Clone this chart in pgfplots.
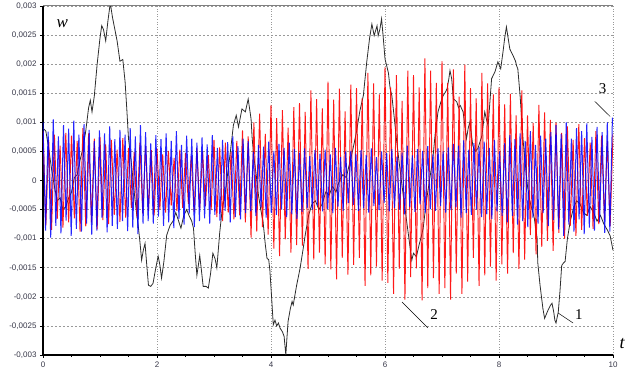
\documentclass[border=0pt]{standalone}
\usepackage{fontspec}
\setmainfont{Liberation Sans}
\newfontfamily\tms{Liberation Serif}
\usepackage{pgfplots}
\pgfplotsset{compat=1.18}

\definecolor{tickgray}{RGB}{55,55,72}
\definecolor{curveone}{RGB}{45,45,45}
\definecolor{curvetwo}{RGB}{255,0,0}
\definecolor{curvethree}{RGB}{0,0,255}

% w is plotted in units of 1e-3, tick labels carry the real values
\begin{document}
\begin{tikzpicture}
\useasboundingbox (-43pt,-24pt) rectangle (589pt,355pt);
\begin{axis}[
    at={(0pt,0pt)}, anchor=south west,
    scale only axis, width=570pt, height=349pt,
    xmin=0, xmax=10, ymin=-3, ymax=3,
    xtick={0,2,4,6,8,10}, xticklabels={0,2,4,6,8,10},
    minor x tick num=3,
    ytick={-3,-2.5,-2,-1.5,-1,-0.5,0,0.5,1,1.5,2,2.5,3},
    yticklabels={{-0,003},{-0,0025},{-0,002},{-0,0015},{-0,001},{-0,0005},{0},{0,0005},{0,001},{0,0015},{0,002},{0,0025},{0,003}},
    axis lines*=left,
    axis line style={line width=1.6pt, black},
    tick align=outside, major tick length=3pt, minor tick length=2pt,
    tick style={black, line width=0.5pt},
    ticklabel style={font=\fontsize{8}{9}\selectfont, text=tickgray},
    xmajorgrids, ymajorgrids,
    x grid style={gray!80, line width=0.6pt, dotted},
    y grid style={gray!80, line width=0.6pt, dash pattern=on 2pt off 2pt},
    clip mode=individual,
]

% curve 1
\addplot[curveone, line width=0.8pt] coordinates {
(0.00,0.90)(0.05,0.85)(0.10,0.55)(0.15,0.20)(0.20,-0.10)(0.25,-0.35)(0.30,-0.30)(0.35,-0.50)
(0.40,-0.45)(0.45,-0.30)(0.50,-0.20)(0.55,0.05)(0.60,0.10)(0.65,0.35)(0.70,0.55)(0.75,0.85)
(0.80,1.25)(0.83,1.38)(0.86,1.18)(0.90,1.45)(0.95,2.00)(1.00,2.45)(1.03,2.66)(1.06,2.60)
(1.10,2.40)(1.14,2.75)(1.18,3.05)(1.22,2.80)(1.26,2.60)(1.30,2.40)(1.35,2.05)(1.40,2.08)
(1.44,1.70)(1.47,1.23)(1.50,0.72)(1.55,0.30)(1.60,-0.20)(1.64,-0.55)(1.67,-0.77)(1.70,-1.05)
(1.73,-1.37)(1.76,-1.20)(1.79,-1.08)(1.82,-1.45)(1.85,-1.80)(1.89,-1.82)(1.93,-1.77)(1.97,-1.55)
(2.02,-1.30)(2.05,-1.45)(2.08,-1.68)(2.12,-1.40)(2.17,-0.94)(2.23,-0.77)(2.28,-0.70)(2.33,-0.55)
(2.38,-0.70)(2.42,-0.82)(2.47,-0.60)(2.52,-0.50)(2.57,-0.62)(2.61,-0.70)(2.64,-0.82)(2.67,-1.25)
(2.70,-1.63)(2.75,-1.29)(2.78,-1.55)(2.81,-1.82)(2.86,-1.82)(2.90,-1.85)(2.94,-1.60)(2.98,-1.25)
(3.02,-1.35)(3.05,-1.50)(3.10,-0.90)(3.14,-0.53)(3.20,-0.20)(3.25,0.20)(3.30,0.60)(3.34,0.95)
(3.39,1.12)(3.43,0.92)(3.49,1.23)(3.55,1.18)(3.60,1.40)(3.65,1.06)(3.67,0.72)(3.70,0.40)
(3.74,0.10)(3.78,-0.25)(3.82,-0.50)(3.86,-0.70)(3.90,-1.10)(3.93,-1.34)(3.96,-1.36)(3.98,-1.54)
(4.01,-2.00)(4.04,-2.48)(4.07,-2.40)(4.10,-2.50)(4.13,-2.45)(4.16,-2.54)(4.20,-2.60)(4.23,-2.68)
(4.26,-3.00)(4.28,-2.70)(4.30,-2.42)(4.34,-2.20)(4.37,-2.08)(4.39,-2.14)(4.45,-1.80)(4.51,-1.51)
(4.56,-1.20)(4.60,-0.94)(4.66,-0.60)(4.72,-0.40)(4.78,-0.35)(4.84,-0.50)(4.90,-0.40)(4.96,-0.20)
(5.02,-0.25)(5.08,-0.10)(5.14,-0.20)(5.20,0.00)(5.26,0.10)(5.32,0.05)(5.38,0.30)(5.44,0.55)
(5.50,0.84)(5.56,1.20)(5.62,1.46)(5.68,2.04)(5.73,2.45)(5.77,2.69)(5.81,2.49)(5.86,2.66)
(5.88,2.49)(5.91,2.60)(5.94,2.78)(5.97,2.45)(6.00,2.09)(6.03,1.97)(6.06,1.85)(6.09,1.58)
(6.12,1.46)(6.16,1.10)(6.20,0.72)(6.25,0.30)(6.30,-0.10)(6.34,-0.40)(6.38,-0.70)(6.42,-1.00)
(6.47,-1.37)(6.50,-1.25)(6.55,-1.31)(6.60,-1.10)(6.64,-0.95)(6.67,-0.82)(6.72,-0.40)(6.78,0.00)
(6.84,0.38)(6.88,0.80)(6.93,1.18)(6.98,1.35)(7.02,1.46)(7.06,1.52)(7.09,1.58)(7.12,1.75)
(7.14,1.89)(7.17,1.75)(7.20,1.40)(7.23,1.38)(7.26,1.35)(7.29,1.25)(7.32,1.29)(7.37,1.18)
(7.43,0.72)(7.46,0.90)(7.49,1.01)(7.54,0.60)(7.58,0.50)(7.63,0.55)(7.70,0.77)(7.75,1.18)
(7.78,1.05)(7.81,0.94)(7.87,1.75)(7.93,1.87)(7.98,2.04)(8.03,1.92)(8.07,2.21)(8.10,2.45)
(8.13,2.64)(8.16,2.45)(8.19,2.26)(8.25,2.14)(8.29,2.05)(8.31,1.97)(8.33,1.92)(8.37,1.46)
(8.42,0.72)(8.46,0.30)(8.50,-0.10)(8.54,-0.35)(8.58,-0.50)(8.62,-0.65)(8.67,-1.00)(8.68,-1.41)
(8.72,-1.80)(8.77,-2.20)(8.80,-2.37)(8.83,-2.30)(8.86,-2.23)(8.90,-2.15)(8.93,-2.11)(8.96,-2.26)
(8.98,-2.40)(9.00,-2.45)(9.04,-2.26)(9.07,-1.90)(9.10,-1.46)(9.13,-1.42)(9.16,-1.39)(9.20,-1.00)
(9.25,-0.70)(9.30,-0.50)(9.36,-0.35)(9.42,-0.40)(9.48,-0.55)(9.54,-0.60)(9.60,-0.45)(9.66,-0.55)
(9.72,-0.70)(9.78,-0.60)(9.84,-0.75)(9.90,-0.85)(9.95,-0.95)(10.00,-1.20)
};

% curve 2
\addplot[curvetwo, line width=0.95pt, opacity=0.9] coordinates {
(0.00,0.85)(0.05,-0.77)(0.10,0.70)(0.15,-0.85)(0.20,0.79)(0.25,-0.66)(0.30,0.60)(0.35,-0.81)(0.40,0.82)(0.45,-0.72)
(0.50,0.77)(0.55,-0.65)(0.60,0.68)(0.65,-0.88)(0.70,0.90)(0.75,-0.79)(0.80,0.81)(0.85,-0.72)(0.90,0.72)(0.95,-0.84)
(1.00,0.75)(1.05,-0.68)(1.10,0.62)(1.15,-0.75)(1.20,0.70)(1.25,-0.59)(1.30,0.53)(1.35,-0.71)(1.40,0.73)(1.45,-0.64)
(1.50,0.56)(1.55,-0.47)(1.60,0.49)(1.65,-0.64)(1.70,0.65)(1.75,-0.57)(1.80,0.59)(1.85,-0.52)(1.90,0.52)(1.95,-0.60)
(2.00,0.55)(2.05,-0.50)(2.10,0.45)(2.15,-0.55)(2.20,0.51)(2.25,-0.43)(2.30,0.39)(2.35,-0.52)(2.40,0.53)(2.45,-0.47)
(2.50,0.47)(2.55,-0.40)(2.60,0.42)(2.65,-0.54)(2.70,0.55)(2.75,-0.48)(2.80,0.50)(2.85,-0.44)(2.90,0.44)(2.95,-0.51)
(3.00,0.70)(3.05,-0.63)(3.10,0.57)(3.15,-0.70)(3.20,0.65)(3.25,-0.55)(3.30,0.49)(3.35,-0.67)(3.40,0.68)(3.45,-0.60)
(3.50,0.86)(3.55,-0.72)(3.60,0.76)(3.65,-0.98)(3.70,1.00)(3.75,-0.88)(3.80,1.15)(3.85,-0.80)(3.90,0.80)(3.95,-0.93)
(4.00,1.30)(4.05,-1.17)(4.10,1.07)(4.15,-1.30)(4.20,1.21)(4.25,-1.01)(4.30,0.91)(4.35,-1.24)(4.40,1.26)(4.45,-1.11)
(4.50,1.33)(4.55,-1.12)(4.60,1.18)(4.65,-1.52)(4.70,1.55)(4.75,-1.36)(4.80,1.40)(4.85,-1.24)(4.90,1.24)(4.95,-1.44)
(5.00,1.70)(5.05,-1.53)(5.10,1.39)(5.15,-1.70)(5.20,1.58)(5.25,-1.33)(5.30,1.19)(5.35,-1.62)(5.40,1.65)(5.45,-1.45)
(5.50,1.59)(5.55,-1.33)(5.60,1.41)(5.65,-1.81)(5.70,1.85)(5.75,-1.63)(5.80,1.67)(5.85,-1.48)(5.90,1.48)(5.95,-1.72)
(6.00,1.95)(6.05,-1.76)(6.10,1.60)(6.15,-1.95)(6.20,1.81)(6.25,-1.52)(6.30,1.37)(6.35,-2.05)(6.40,1.89)(6.45,-1.66)
(6.50,1.81)(6.55,-1.51)(6.60,1.60)(6.65,-2.06)(6.70,2.10)(6.75,-1.85)(6.80,1.89)(6.85,-1.68)(6.90,1.68)(6.95,-1.95)
(7.00,2.05)(7.05,-1.85)(7.10,1.68)(7.15,-2.05)(7.20,1.91)(7.25,-1.60)(7.30,1.44)(7.35,-1.95)(7.40,1.99)(7.45,-1.74)
(7.50,1.59)(7.55,-1.33)(7.60,1.41)(7.65,-1.81)(7.70,1.85)(7.75,-1.63)(7.80,1.67)(7.85,-1.48)(7.90,1.48)(7.95,-1.72)
(8.00,1.60)(8.05,-1.44)(8.10,1.31)(8.15,-1.60)(8.20,1.49)(8.25,-1.25)(8.30,1.12)(8.35,-1.52)(8.40,1.55)(8.45,-1.36)
(8.50,1.12)(8.55,-0.94)(8.60,0.99)(8.65,-1.27)(8.70,1.30)(8.75,-1.14)(8.80,1.17)(8.85,-1.04)(8.90,1.04)(8.95,-1.21)
(9.00,1.00)(9.05,-0.90)(9.10,0.82)(9.15,-1.00)(9.20,0.93)(9.25,-0.78)(9.30,0.70)(9.35,-0.95)(9.40,0.97)(9.45,-0.85)
(9.50,0.73)(9.55,-0.61)(9.60,0.65)(9.65,-0.83)(9.70,0.85)(9.75,-0.75)(9.80,0.77)(9.85,-0.68)(9.90,0.68)(9.95,-0.79)
(10.00,0.80)
};

% curve 3
\addplot[curvethree, line width=1.0pt, opacity=0.85] coordinates {
(0.000,1.00)(0.045,-0.86)(0.090,0.84)(0.135,-0.98)(0.180,1.05)(0.225,-0.78)(0.270,0.76)(0.315,-0.91)(0.360,0.95)(0.405,-0.69)
(0.450,0.89)(0.495,-0.95)(0.540,1.03)(0.585,-0.83)(0.630,0.79)(0.675,-0.88)(0.720,0.97)(0.765,-0.74)(0.810,0.87)(0.855,-0.93)
(0.900,0.68)(0.945,-0.86)(0.990,0.86)(1.035,-0.64)(1.080,0.81)(1.125,-0.89)(1.170,0.93)(1.215,-0.78)(1.260,0.71)(1.305,-0.83)
(1.350,0.87)(1.395,-0.70)(1.440,0.79)(1.485,-0.87)(1.530,0.90)(1.575,-0.81)(1.620,0.76)(1.665,-0.92)(1.710,0.95)(1.755,-0.74)
(1.800,0.83)(1.845,-0.70)(1.890,0.64)(1.935,-0.74)(1.980,0.78)(2.025,-0.62)(2.070,0.71)(2.115,-0.78)(2.160,0.81)(2.205,-0.72)
(2.250,0.68)(2.295,-0.82)(2.340,0.85)(2.385,-0.66)(2.430,0.61)(2.475,-0.76)(2.520,0.77)(2.565,-0.57)(2.610,0.72)(2.655,-0.80)
(2.700,0.65)(2.745,-0.70)(2.790,0.74)(2.835,-0.65)(2.880,0.62)(2.925,-0.74)(2.970,0.78)(3.015,-0.59)(3.060,0.56)(3.105,-0.69)
(3.150,0.70)(3.195,-0.52)(3.240,0.66)(3.285,-0.72)(3.330,0.76)(3.375,-0.63)(3.420,0.59)(3.465,-0.67)(3.510,0.72)(3.555,-0.56)
(3.600,0.68)(3.645,-0.53)(3.690,0.49)(3.735,-0.61)(3.780,0.61)(3.825,-0.46)(3.870,0.58)(3.915,-0.64)(3.960,0.67)(4.005,-0.56)
(4.050,0.51)(4.095,-0.59)(4.140,0.63)(4.185,-0.50)(4.230,0.56)(4.275,-0.63)(4.320,0.65)(4.365,-0.58)(4.410,0.54)(4.455,-0.66)
(4.500,0.48)(4.545,-0.54)(4.590,0.55)(4.635,-0.48)(4.680,0.42)(4.725,-0.50)(4.770,0.52)(4.815,-0.43)(4.860,0.46)(4.905,-0.53)
(4.950,0.53)(4.995,-0.49)(5.040,0.45)(5.085,-0.56)(5.130,0.56)(5.175,-0.45)(5.220,0.40)(5.265,-0.52)(5.310,0.50)(5.355,-0.39)
(5.400,0.51)(5.445,-0.42)(5.490,0.46)(5.535,-0.52)(5.580,0.52)(5.625,-0.48)(5.670,0.44)(5.715,-0.55)(5.760,0.55)(5.805,-0.44)
(5.850,0.40)(5.895,-0.51)(5.940,0.50)(5.985,-0.39)(6.030,0.47)(6.075,-0.53)(6.120,0.54)(6.165,-0.47)(6.210,0.41)(6.255,-0.50)
(6.300,0.48)(6.345,-0.58)(6.390,0.60)(6.435,-0.46)(6.480,0.43)(6.525,-0.54)(6.570,0.54)(6.615,-0.41)(6.660,0.51)(6.705,-0.56)
(6.750,0.59)(6.795,-0.49)(6.840,0.45)(6.885,-0.52)(6.930,0.55)(6.975,-0.44)(7.020,0.50)(7.065,-0.55)(7.110,0.57)(7.155,-0.51)
(7.200,0.63)(7.245,-0.46)(7.290,0.60)(7.335,-0.64)(7.380,0.69)(7.425,-0.56)(7.470,0.53)(7.515,-0.59)(7.560,0.64)(7.605,-0.50)
(7.650,0.58)(7.695,-0.63)(7.740,0.67)(7.785,-0.58)(7.830,0.56)(7.875,-0.66)(7.920,0.70)(7.965,-0.53)(8.010,0.50)(8.055,-0.61)
(8.100,0.64)(8.145,-0.72)(8.190,0.78)(8.235,-0.61)(8.280,0.71)(8.325,-0.76)(8.370,0.81)(8.415,-0.70)(8.460,0.68)(8.505,-0.80)
(8.550,0.85)(8.595,-0.64)(8.640,0.61)(8.685,-0.74)(8.730,0.77)(8.775,-0.56)(8.820,0.72)(8.865,-0.78)(8.910,0.83)(8.955,-0.68)
(9.000,0.95)(9.045,-0.84)(9.090,0.80)(9.135,-0.95)(9.180,1.00)(9.225,-0.76)(9.270,0.72)(9.315,-0.88)(9.360,0.90)(9.405,-0.67)
(9.450,0.85)(9.495,-0.92)(9.540,0.98)(9.585,-0.81)(9.630,0.75)(9.675,-0.86)(9.720,0.92)(9.765,-0.72)(9.810,0.83)(9.855,-0.90)
(9.900,1.00)(9.945,-0.88)(9.990,1.08)
};

% frame top, labels and leaders
\draw[gray, line width=1pt] (rel axis cs:0,1) -- (rel axis cs:1,1);
\node[font=\tms\itshape\fontsize{17}{17}\selectfont] at (axis cs:0.34,2.70) {w};
\node[font=\tms\itshape\fontsize{18}{18}\selectfont] at (axis cs:10.16,-2.80) {t};
\draw[black, line width=0.5pt] (axis cs:9.68,1.36) -- (axis cs:9.95,1.10);
\node[font=\tms\fontsize{15}{15}\selectfont] at (axis cs:9.82,1.58) {3};
\draw[black, line width=0.5pt] (axis cs:6.30,-2.09) -- (axis cs:6.75,-2.53);
\node[font=\tms\fontsize{15}{15}\selectfont] at (axis cs:6.86,-2.31) {2};
\draw[black, line width=0.5pt] (axis cs:9.04,-2.28) -- (axis cs:9.30,-2.45);
\node[font=\tms\fontsize{15}{15}\selectfont] at (axis cs:9.40,-2.31) {1};
\end{axis}
\end{tikzpicture}
\end{document}
